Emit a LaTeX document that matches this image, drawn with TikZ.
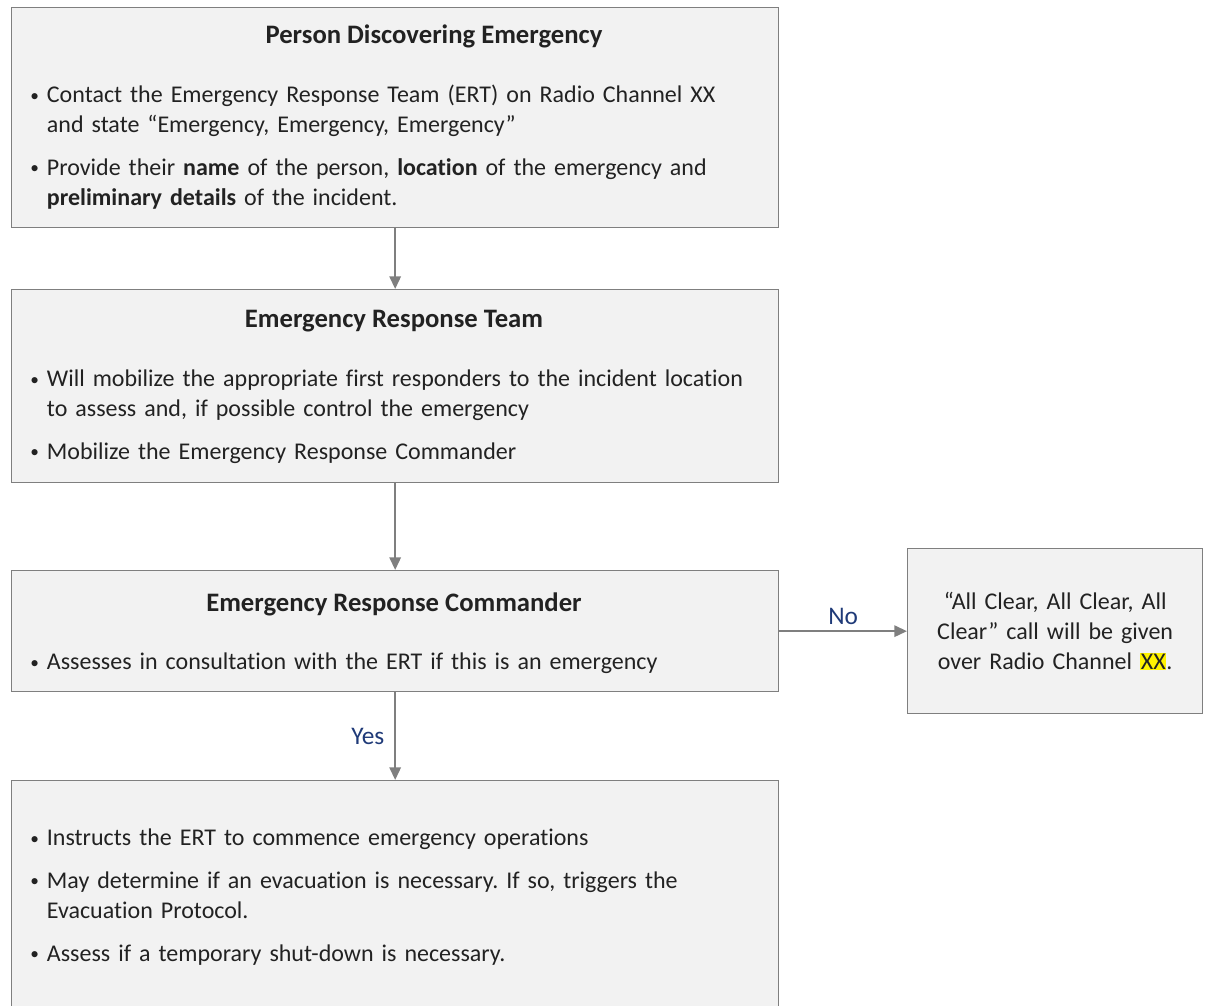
\documentclass[tikz,border=0pt]{standalone}
\usepackage{fontspec}
\setmainfont{Carlito}[Ligatures={NoCommon}]
\usepackage{xcolor}
\usetikzlibrary{positioning,arrows.meta}

\definecolor{boxfill}{HTML}{F2F2F2}
\definecolor{boxline}{HTML}{7F7F7F}
\definecolor{inkgray}{HTML}{222222}
\definecolor{answerblue}{HTML}{1F3A78}

% bullet line with hanging indent
\newcommand{\bitem}[1]{\hangindent=14pt\hangafter=1\noindent\makebox[14pt][l]{\hspace{1.5pt}\raisebox{0.15ex}{\fontsize{13}{13}\selectfont\textbullet}}#1\par}
\newcommand{\bgap}{\vskip9.5pt}

\tikzset{
  box/.style={draw=boxline, fill=boxfill, line width=1pt, anchor=north west, inner sep=0pt, minimum width=575.25pt},
  ttl/.style={inner sep=0pt, text=inkgray, font=\fontsize{20}{24}\selectfont\bfseries},
  txt/.style={anchor=north west, inner sep=0pt, text width=565pt, text=inkgray,
    font=\fontsize{18}{22.5}\selectfont\frenchspacing},
  link/.style={draw=boxline, line width=1.6pt, -{Triangle[length=9.5pt, width=8.5pt]}},
  answer/.style={text=answerblue, font=\fontsize{19}{22}\selectfont}
}

\begin{document}
\begin{tikzpicture}[x=0.75pt, y=-0.75pt]
    \clip (0,0) rectangle (1208,1006);

    % Person discovering the emergency
    \node[box, minimum height=165pt] (discover) at (11,7) {};
    \node[ttl] (discoverTitle) at (434,36) {Person Discovering Emergency};
    \node[txt] (discoverText) at (28,85) {%
      \bitem{Contact the Emergency Response Team (ERT) on Radio Channel XX\newline and state “Emergency, Emergency, Emergency”}\bgap
      \bitem{Provide their \textbf{name} of the person, \textbf{location} of the emergency and\newline \textbf{preliminary details} of the incident.}};

    % Emergency response team
    \node[box, minimum height=144.75pt] (team) at (11,289) {};
    \node[ttl] (teamTitle) at (394,321) {Emergency Response Team};
    \node[txt] (teamText) at (28,370) {%
      \bitem{Will mobilize the appropriate first responders to the incident location\newline to assess and, if possible control the emergency}\bgap
      \bitem{Mobilize the Emergency Response Commander}};

    % Commander decision
    \node[box, minimum height=90.75pt] (command) at (11,570) {};
    \node[ttl] (commandTitle) at (394,604) {Emergency Response Commander};
    \node[txt] (commandText) at (28,653) {%
      \bitem{Assesses in consultation with the ERT if this is an emergency}};

    % All clear
    \node[box, minimum width=221.25pt, minimum height=123.75pt] (clear) at (907,548) {};
    \node[txt, anchor=center, text width=210pt, align=center] (clearText) at (clear.center) {%
      “All Clear, All Clear, All\\Clear” call will be given\\over Radio Channel {\setlength{\fboxsep}{0.5pt}\colorbox{yellow}{XX}}.};

    % Emergency operations
    \node[box, minimum height=195pt] (operate) at (11,780) {};
    \node[txt] (operateText) at (28,829) {%
      \bitem{Instructs the ERT to commence emergency operations}\bgap
      \bitem{May determine if an evacuation is necessary. If so, triggers the\newline Evacuation Protocol.}\bgap
      \bitem{Assess if a temporary shut-down is necessary.}};

    % Arrows
    \draw[link] (discover.south) -- (team.north);
    \draw[link] (team.south) -- (command.north);
    \draw[link] (command.east) -- node[answer, above=1pt] {No} (clear.west);
    \draw[link] (command.south) -- node[answer, left=4pt] {Yes} (operate.north);
\end{tikzpicture}
\end{document}
